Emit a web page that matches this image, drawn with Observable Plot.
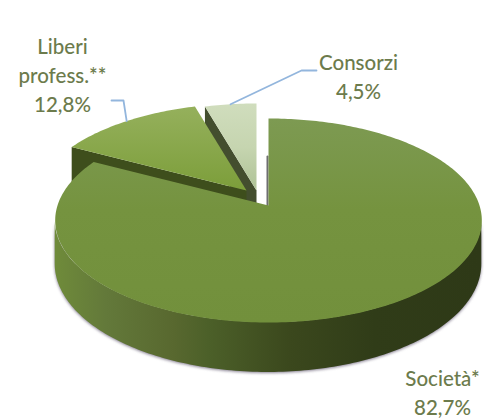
<!DOCTYPE html>
<html>
<head>
<meta charset="utf-8">
<script src="https://cdn.jsdelivr.net/npm/d3@7"></script>
<script src="https://cdn.jsdelivr.net/npm/@observablehq/plot@0.6"></script>
<style>
  html, body { margin: 0; padding: 0; background: #fff; }
  svg { display: block; }
</style>
</head>
<body>
<div id="chart"></div>
<script>
// Shares of the three groups, clockwise from twelve o'clock.
const categories = ["Società*", "Liberi\nprofess.**", "Consorzi"];
const shares = [82.7, 12.8, 4.5];

// Disc geometry: unit disc in scale space, k is the depth foreshortening.
const W = 484, H = 419;
const originX = 268, originY = 205, radiusX = 211, radiusY = 99.8;
const k = 0.147, wallDepth = 42.6;
const toX = (px) => (px - originX) / radiusX;
const toY = (py) => (py - originY) / radiusY;

// Pulled-out offsets of each slice, and where its label sits.
const explodeX = [0, toX(246), toX(256)];
const explodeY = [0, toY(190), toY(190)];
const labelX = [toX(442), toX(62), toX(358)];
const labelY = [toY(391), toY(73), toY(75)];
const elbows = [[], [[toX(123), toY(100)], [toX(111), toY(100)]], [[toX(301), toY(70)], [toX(316), toY(70)]]];

// Slice angles in degrees.
let running = 0;
const slices = shares.map((share, i) => {
  const start = running;
  running += (share / 100) * 360;
  return {i, name: categories[i], share, start, end: running,
          ox: explodeX[i], oy: explodeY[i]};
});

// Project a polar disc position to scale space; lift moves it down the wall.
function project(deg, r, lift, ox = 0, oy = 0) {
  const a = (deg * Math.PI) / 180;
  const u = r * Math.sin(a), v = -r * Math.cos(a);
  const d = 1 - k * v;
  return {x: ox + u / d, y: oy + (v + (lift * wallDepth) / radiusY) / d};
}
function degSteps(a, b) {
  const out = d3.range(a, b, Math.sign(b - a) || 1);
  out.push(b);
  return out;
}
const face = (s) => [
  project(0, 0, 0, s.ox, s.oy),
  ...degSteps(s.start, s.end).map((d) => project(d, 1, 0, s.ox, s.oy))
];
const radialWall = (s, deg) => [
  project(deg, 1, 0, s.ox, s.oy),
  project(deg, 0, 0, s.ox, s.oy),
  project(deg, 0, 1, s.ox, s.oy),
  project(deg, 1, 1, s.ox, s.oy)
];

// Rounded front of the large slice, between the two silhouette angles.
const silhouette = (Math.acos(-k) * 180) / Math.PI;
const frontWall = degSteps(360 - silhouette, silhouette).map((d) => {
  const top = project(d, 1, 0), bottom = project(d, 1, 1);
  return {x: top.x, y1: top.y, y2: bottom.y};
});

const pctText = (v) => v.toFixed(1).replace(".", ",") + "%";
const labels = slices.map((s) => ({
  x: labelX[s.i], y: labelY[s.i], text: `${s.name}\n${pctText(s.share)}`
}));
const leader = (s) => {
  const mid = project((s.start + s.end) / 2, 1, 0, s.ox, s.oy);
  return [mid, ...elbows[s.i].map(([x, y]) => ({x, y}))];
};

// Gradients used by the faces and the wall.
function gradients() {
  const defs = d3.create("svg:defs");
  const add = (id, horizontal, stops) => {
    const g = defs.append("linearGradient").attr("id", id)
      .attr("x1", 0).attr("y1", 0)
      .attr("x2", horizontal ? 1 : 0).attr("y2", horizontal ? 0 : 1);
    stops.forEach(([o, c]) => g.append("stop").attr("offset", o).attr("stop-color", c));
  };
  add("faceMain", false, [[0, "#7d9a52"], [0.45, "#75933f"], [1, "#72903c"]]);
  add("faceLiberi", false, [[0, "#95b05c"], [1, "#7c9e3a"]]);
  add("faceConsorzi", false, [[0, "#d0ddbd"], [0.5, "#c6d5b0"], [1, "#aec296"]]);
  add("wallMain", true, [[0, "#6f8b3a"], [0.12, "#63793a"], [0.28, "#58682f"], [0.36, "#4c6029"],
                         [0.55, "#3b481d"], [0.75, "#303c18"], [1, "#2e3917"]]);
  return defs.node();
}

const poly = (pts, fill) => Plot.line(pts, {x: "x", y: "y", fill, stroke: "none", curve: "linear-closed"});
const [main, liberi, consorzi] = slices;

const chart = Plot.plot({
  width: W,
  height: H,
  margin: 0,
  style: {background: "#fff"},
  x: {domain: [toX(0), toX(W)], range: [0, W], axis: null},
  y: {domain: [toY(0), toY(H)], range: [0, H], axis: null},
  marks: [
    gradients,
    // Back to front: Consorzi, Liberi, then the large slice.
    poly(radialWall(consorzi, consorzi.start), "#434e2e"),
    poly(face(consorzi), "url(#faceConsorzi)"),
    poly(radialWall(liberi, liberi.start), "#3e4e1c"),
    poly(face(liberi), "url(#faceLiberi)"),
    Plot.line([project(0, 0.53, 0), project(0, 0, 0)], {
      x: "x", y: "y", stroke: "#6e6e70", strokeWidth: 2, dx: -1
    }),
    Plot.areaY(frontWall, {
      x: "x", y1: "y1", y2: "y2", fill: "url(#wallMain)",
      imageFilter: "drop-shadow(0 1.5px 1.5px rgba(95,85,110,.75))"
    }),
    poly(face(main), "url(#faceMain)"),
    // Leader lines to the two outer labels.
    ...[liberi, consorzi].map((s) => Plot.line(leader(s), {
      x: "x", y: "y", stroke: "#93b6dd", strokeWidth: 1.8
    })),
    Plot.text(labels, {
      x: "x", y: "y", text: "text", fill: "#6c7b4c",
      fontFamily: "Lato", fontSize: 20.5, fontWeight: 500, lineHeight: 1.42,
      textAnchor: "middle"
    })
  ]
});
document.getElementById("chart").append(chart);
</script>
</body>
</html>
